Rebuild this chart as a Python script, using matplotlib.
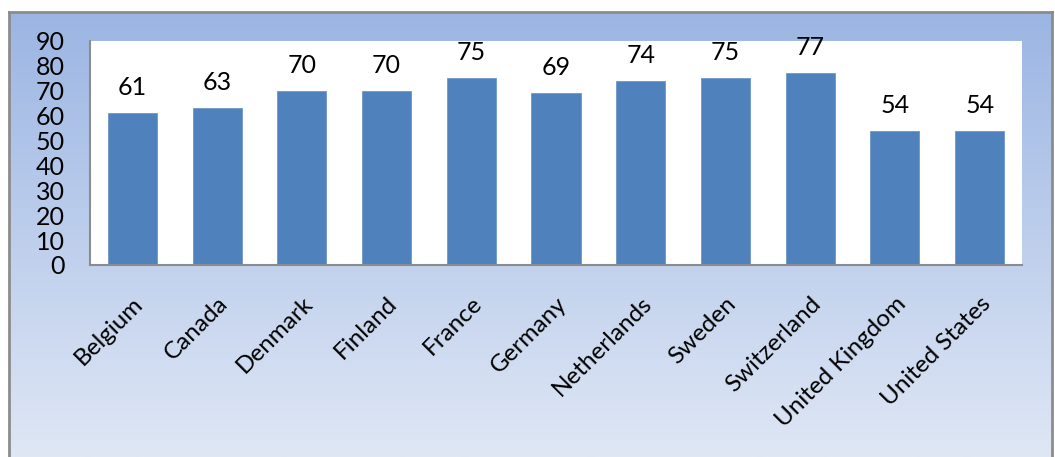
import numpy as np
import matplotlib
matplotlib.use("Agg")
import matplotlib.pyplot as plt

# -----------------------------
# Data
# -----------------------------
countries = ["Belgium", "Canada", "Denmark", "Finland", "France", "Germany",
             "Netherlands", "Sweden", "Switzerland", "United Kingdom", "United States"]
values = [61, 63, 70, 70, 75, 69, 74, 75, 77, 54, 54]
y_ticks = [0, 10, 20, 30, 40, 50, 60, 70, 80, 90]

plt.rcParams["font.family"] = ["Lato", "DejaVu Sans"]

W, H = 1055, 457
fig = plt.figure(figsize=(W / 100, H / 100), dpi=100)
fig.patch.set_facecolor("white")

# -----------------------------
# Chart area background (gradient + grey frame)
# -----------------------------
bg = fig.add_axes([9 / W, 0, (1052 - 9) / W, (H - 12) / H])
top = np.array([0x9b, 0xb5, 0xe3]) / 255
bottom = np.array([0xdf, 0xe7, 0xf5]) / 255
t = np.linspace(0, 1, 256)[:, None]
grad = (top[None, :] * (1 - t) + bottom[None, :] * t)[:, None, :]
bg.imshow(grad, aspect="auto", extent=[0, 1, 0, 1])
bg.set_xticks([])
bg.set_yticks([])
for side in ["left", "top", "right"]:
    bg.spines[side].set_color("#8c8c8c")
    bg.spines[side].set_linewidth(2)
bg.spines["bottom"].set_visible(False)

# -----------------------------
# Plot area
# -----------------------------
ax = fig.add_axes([90 / W, (H - 265) / H, (1022 - 90) / W, (265 - 41) / H])
ax.set_facecolor("white")
x = np.arange(len(countries))
ax.bar(x, values, width=0.58, color="#4f81bd", edgecolor="#6f97c9", linewidth=0.6, zorder=2)

for xi, v in zip(x, values):
    ax.annotate(str(v), (xi, v), xytext=(0, 13), textcoords="offset points",
                ha="center", va="baseline", fontsize=18)

ax.set_xlim(-0.5, len(countries) - 0.5)
ax.set_ylim(0, 90)
ax.set_yticks(y_ticks)
ax.set_yticklabels([str(v) for v in y_ticks], fontsize=18)
ax.set_xticks(x)
ax.set_xticklabels(countries, rotation=45, ha="right", rotation_mode="anchor", fontsize=17.5)
ax.tick_params(length=0, pad=18, axis="y")
ax.tick_params(length=0, pad=20, axis="x")

for side in ["top", "right"]:
    ax.spines[side].set_visible(False)
for side in ["left", "bottom"]:
    ax.spines[side].set_color("#8c8c8c")
    ax.spines[side].set_linewidth(1.5)

fig.savefig("out.png", dpi=100)
